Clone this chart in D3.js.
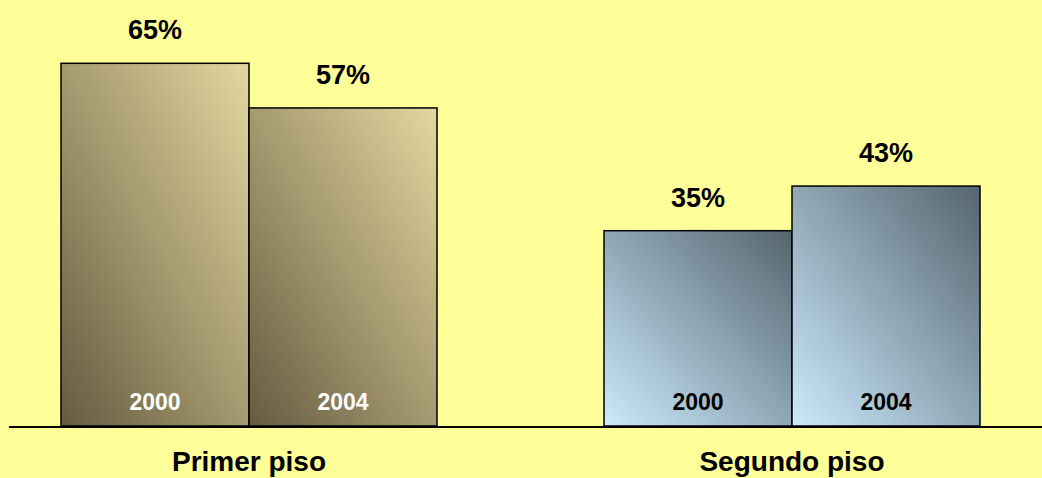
<!DOCTYPE html>
<html>
<head>
<meta charset="utf-8">
<script src="https://cdn.jsdelivr.net/npm/d3@7"></script>
<style>
body { margin: 0; background: #ffff99; }
svg { display: block; }
text { font-family: Arial, "Liberation Sans", sans-serif; font-weight: bold; }
</style>
</head>
<body>
<div id="chart"></div>
<script>
var categories = ["Primer piso", "Segundo piso"];
var years = ["2000", "2004"];
var primerPiso = [65, 57];
var segundoPiso = [35, 43];

var width = 1042, height = 478;
var baseY = 426;

var svg = d3.select("#chart").append("svg")
    .attr("width", width)
    .attr("height", height);

var defs = svg.append("defs");
function addGrad(id, dark, light, darkAtBottom) {
    var g = defs.append("linearGradient")
        .attr("id", id)
        .attr("x1", "0%").attr("y1", "100%")
        .attr("x2", "100%").attr("y2", "0%");
    g.append("stop").attr("offset", "0%").attr("stop-color", darkAtBottom ? dark : light);
    g.append("stop").attr("offset", "100%").attr("stop-color", darkAtBottom ? light : dark);
}
addGrad("gradBrown", "#655c40", "#e4d7a0", true);
addGrad("gradBlue", "#55656f", "#cbeafc", false);

// category centres, each group = two touching bars
var x0 = d3.scalePoint().domain(categories).range([249, 792]);
var groupWidth = 376;
var x1 = d3.scaleBand().domain(years).range([0, groupWidth]).padding(0);
var y = d3.scaleLinear().domain([0, 100]).range([baseY, baseY - 558]);

var series = [
    { cat: "Primer piso", values: primerPiso, fill: "url(#gradBrown)", yearColor: "#ffffff" },
    { cat: "Segundo piso", values: segundoPiso, fill: "url(#gradBlue)", yearColor: "#000000" }
];

series.forEach(function (s) {
    var g = svg.append("g")
        .attr("transform", "translate(" + (x0(s.cat) - groupWidth / 2) + ",0)");
    var data = years.map(function (yr, i) { return { year: yr, value: s.values[i] }; });

    g.selectAll("rect")
        .data(data)
        .enter().append("rect")
        .attr("x", function (d) { return x1(d.year); })
        .attr("y", function (d) { return y(d.value); })
        .attr("width", x1.bandwidth())
        .attr("height", function (d) { return baseY - y(d.value); })
        .attr("fill", s.fill)
        .attr("stroke", "#000")
        .attr("stroke-width", 1.5);

    g.selectAll(".val")
        .data(data)
        .enter().append("text")
        .attr("class", "val")
        .attr("x", function (d) { return x1(d.year) + x1.bandwidth() / 2; })
        .attr("y", function (d) { return y(d.value) - 24; })
        .attr("text-anchor", "middle")
        .attr("font-size", 27)
        .attr("fill", "#000")
        .text(function (d) { return d.value + "%"; });

    g.selectAll(".yr")
        .data(data)
        .enter().append("text")
        .attr("class", "yr")
        .attr("x", function (d) { return x1(d.year) + x1.bandwidth() / 2; })
        .attr("y", baseY - 16)
        .attr("text-anchor", "middle")
        .attr("font-size", 23)
        .attr("fill", s.yearColor)
        .text(function (d) { return d.year; });

    svg.append("text")
        .attr("x", x0(s.cat))
        .attr("y", 471)
        .attr("text-anchor", "middle")
        .attr("font-size", 28)
        .attr("fill", "#000")
        .text(s.cat);
});

svg.append("line")
    .attr("x1", 9).attr("x2", width)
    .attr("y1", baseY + 1).attr("y2", baseY + 1)
    .attr("stroke", "#000")
    .attr("stroke-width", 2);
</script>
</body>
</html>
